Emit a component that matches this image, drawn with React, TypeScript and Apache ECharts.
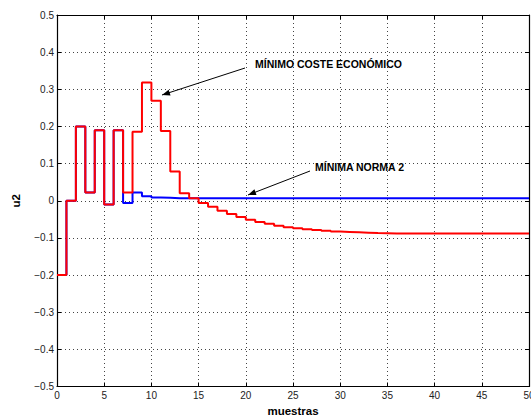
import React, { useEffect, useRef } from "react";
import * as echarts from "echarts";

// Control signal u2 per sample (held constant over each sample interval)
const costeEconomico = [
  -0.2, 0, 0.2, 0.022, 0.19, -0.01, 0.19, 0.022, 0.186, 0.318,
  0.269, 0.188, 0.079, 0.02, 0.007, -0.006, -0.016, -0.027, -0.036, -0.044,
  -0.051, -0.057, -0.062, -0.067, -0.071, -0.074, -0.077, -0.079, -0.081, -0.083,
  -0.084, -0.085, -0.086, -0.087, -0.0875, -0.088, -0.088, -0.088, -0.088, -0.088,
  -0.088, -0.088, -0.088, -0.088, -0.088, -0.088, -0.088, -0.088, -0.088, -0.088,
];

const normaDos = [
  -0.2, 0, 0.2, 0.022, 0.19, -0.01, 0.19, -0.006, 0.022, 0.012,
  0.009, 0.008, 0.007, 0.007, 0.007, 0.007, 0.007, 0.007, 0.007, 0.007,
  0.007, 0.007, 0.007, 0.007, 0.007, 0.007, 0.007, 0.007, 0.007, 0.007,
  0.007, 0.007, 0.007, 0.007, 0.007, 0.007, 0.007, 0.007, 0.007, 0.007,
  0.007, 0.007, 0.007, 0.007, 0.007, 0.007, 0.007, 0.007, 0.007, 0.007,
];

const annotations = [
  { text: "MÍNIMO COSTE ECONÓMICO", textX: 255, textY: 64, from: [245, 68], to: [162, 95] },
  { text: "MÍNIMA NORMA 2", textX: 315, textY: 167, from: [310, 171], to: [248, 195] },
];

const FONT = "'Liberation Sans', Arial, Helvetica, sans-serif";

function stairs(values: number[]) {
  const pts = values.map((v, i) => [i, v]);
  pts.push([values.length, values[values.length - 1]]);
  return pts;
}

function arrowHead(from: number[], to: number[], len = 8, half = 3) {
  const dx = to[0] - from[0];
  const dy = to[1] - from[1];
  const d = Math.hypot(dx, dy);
  const ux = dx / d;
  const uy = dy / d;
  const bx = to[0] - len * ux;
  const by = to[1] - len * uy;
  const px = -uy;
  const py = ux;
  return [
    [to[0], to[1]],
    [bx + half * px, by + half * py],
    [bx - half * px, by - half * py],
  ];
}

const fmtY = (v: number) =>
  v === 0 ? "0" : (v < 0 ? "\u2212" : "") + Math.abs(v).toFixed(1);

export default function App() {
  const ref = useRef<HTMLDivElement>(null);

  useEffect(() => {
    if (!ref.current) return;
    const chart = echarts.init(ref.current, null, { renderer: "svg" });

    const gridLine = { show: true, lineStyle: { color: "#444", width: 1, type: [1, 3] } };
    const axisLine = { show: true, onZero: false, lineStyle: { color: "#000", width: 1.2 } };
    const tickIn = { show: true, inside: true, length: 4, lineStyle: { color: "#000" } };

    const graphics: any[] = [];
    annotations.forEach((a) => {
      graphics.push({
        type: "line",
        shape: { x1: a.from[0], y1: a.from[1], x2: a.to[0], y2: a.to[1] },
        style: { stroke: "#000", lineWidth: 1 },
        z: 100,
      });
      graphics.push({
        type: "polygon",
        shape: { points: arrowHead(a.from, a.to) },
        style: { fill: "#000" },
        z: 100,
      });
      graphics.push({
        type: "text",
        x: a.textX,
        y: a.textY,
        style: {
          text: a.text,
          fill: "#000",
          font: `bold 10.5px ${FONT}`,
          verticalAlign: "middle",
        },
        z: 100,
      });
    });

    chart.setOption({
      animation: false,
      backgroundColor: "#fff",
      grid: {
        left: 57,
        top: 15,
        width: 472,
        height: 371.5,
        containLabel: false,
        outerBoundsMode: "none",
      },
      xAxis: [
        {
          type: "value",
          min: 0,
          max: 50,
          interval: 5,
          position: "bottom",
          name: "muestras",
          nameLocation: "middle",
          nameGap: 17,
          nameTextStyle: { fontFamily: FONT, fontWeight: "bold", fontSize: 11.5, color: "#000" },
          axisLine,
          axisTick: tickIn,
          axisLabel: { fontFamily: FONT, fontSize: 10, color: "#222", margin: 4 },
          splitLine: gridLine,
        },
        {
          type: "value",
          min: 0,
          max: 50,
          interval: 5,
          position: "top",
          axisLine,
          axisTick: tickIn,
          axisLabel: { show: false },
          splitLine: { show: false },
        },
      ],
      yAxis: [
        {
          type: "value",
          min: -0.5,
          max: 0.5,
          interval: 0.1,
          position: "left",
          name: "u2",
          nameLocation: "middle",
          nameGap: 35,
          nameTextStyle: { fontFamily: FONT, fontWeight: "bold", fontSize: 11.5, color: "#000" },
          axisLine,
          axisTick: tickIn,
          axisLabel: { fontFamily: FONT, fontSize: 10, color: "#222", margin: 3, formatter: fmtY },
          splitLine: gridLine,
        },
        {
          type: "value",
          min: -0.5,
          max: 0.5,
          interval: 0.1,
          position: "right",
          axisLine,
          axisTick: tickIn,
          axisLabel: { show: false },
          splitLine: { show: false },
        },
      ],
      series: [
        {
          name: "MÍNIMA NORMA 2",
          type: "line",
          step: "end",
          data: stairs(normaDos),
          showSymbol: false,
          symbol: "none",
          lineStyle: { color: "#0000ff", width: 2 },
          z: 2,
        },
        {
          name: "MÍNIMO COSTE ECONÓMICO",
          type: "line",
          step: "end",
          data: stairs(costeEconomico),
          showSymbol: false,
          symbol: "none",
          lineStyle: { color: "#ff0000", width: 2 },
          z: 3,
        },
      ],
      graphic: graphics,
    });

    return () => chart.dispose();
  }, []);

  return (
    <div
      ref={ref}
      style={{ position: "fixed", left: 0, top: 0, width: 531, height: 417, background: "#fff" }}
    />
  );
}
